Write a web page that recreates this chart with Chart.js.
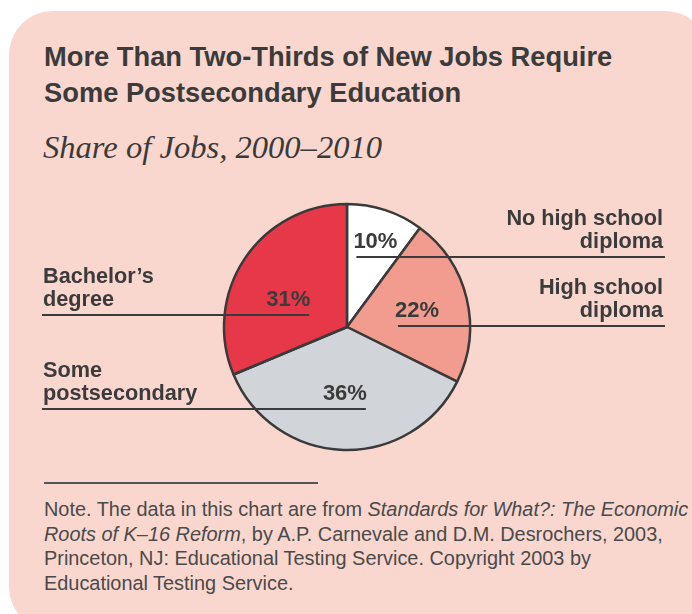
<!DOCTYPE html>
<html>
<head>
<meta charset="utf-8">
<script src="https://cdn.jsdelivr.net/npm/chart.js@4/dist/chart.umd.min.js"></script>
<style>
  html, body { margin:0; padding:0; background:#ffffff; width:692px; height:614px; overflow:hidden; }
  #panel { position:absolute; left:9px; top:11px; width:700px; height:620px; border-radius:44px; background:#F9D7CE; }
  #c { position:absolute; left:0; top:0; }
  .t { position:absolute; white-space:nowrap; color:#3b3b3b; }
  #title { left:44px; top:39px; font:bold 27.3px "Liberation Sans", Arial, sans-serif; line-height:36px; }
  #sub { left:43px; top:128.5px; font:italic 32.6px "Liberation Serif", "Times New Roman", serif; line-height:36px; color:#3a3a3a; }
  #rule { position:absolute; left:44px; top:482px; width:274px; height:2px; background:#555; }
  #note { left:44px; top:497px; font:19.9px "Liberation Sans", Arial, sans-serif; line-height:24.7px; color:#4a4a4a; }
</style>
</head>
<body>
<div id="panel"></div>
<div class="t" id="title">More Than Two-Thirds of New Jobs Require<br>Some Postsecondary Education</div>
<div class="t" id="sub">Share of Jobs, 2000–2010</div>
<div id="rule"></div>
<div class="t" id="note">Note. The data in this chart are from <i>Standards for What?: The Economic</i><br><i>Roots of K–16 Reform</i>, by A.P. Carnevale and D.M. Desrochers, 2003,<br>Princeton, NJ: Educational Testing Service. Copyright 2003 by<br>Educational Testing Service.</div>
<canvas id="c" width="692" height="614"></canvas>
<script>
// ---- data ----
const categories = ["No high school diploma", "High school diploma", "Some postsecondary", "Bachelor’s degree"];
const categoryLines = [["No high school", "diploma"], ["High school", "diploma"], ["Some", "postsecondary"], ["Bachelor’s", "degree"]];
const shares = [10, 22, 36, 31];
const shareLabels = ["10%", "22%", "36%", "31%"];
const sliceColors = ["#FFFFFF", "#F29C8F", "#D1D4D8", "#E63848"];

const INK = "#3b3b3b";

const labelPlugin = {
  id: "sliceLabels",
  afterDatasetsDraw(chart, args, opts) {
    const ctx = chart.ctx;
    const meta = chart.getDatasetMeta(0);
    ctx.save();
    meta.data.forEach((arc, i) => {
      const p = arc.getProps(["x", "y", "startAngle", "endAngle", "outerRadius"], true);
      const mid = (p.startAngle + p.endAngle) / 2 + opts.angleShift[i] * Math.PI / 180;
      const r = p.outerRadius * opts.radial[i];
      const cx = p.x + Math.cos(mid) * r;
      const cy = p.y + Math.sin(mid) * r;
      ctx.font = "bold 22px 'Liberation Sans', Arial, sans-serif";
      ctx.fillStyle = INK;
      ctx.textAlign = "center";
      ctx.textBaseline = "middle";
      const txt = shareLabels[i];
      const w = ctx.measureText(txt).width;
      ctx.fillText(txt, cx, cy + 1);
      const ly = Math.round(cy + 16);
      const right = Math.cos(mid) > 0;
      ctx.strokeStyle = INK;
      ctx.lineWidth = 2;
      ctx.beginPath();
      if (right) { ctx.moveTo(cx - w / 2 + 3, ly); ctx.lineTo(opts.rightEdge, ly); }
      else { ctx.moveTo(opts.leftEdge, ly); ctx.lineTo(cx + w / 2 - 1, ly); }
      ctx.stroke();
      ctx.font = "bold 21.7px 'Liberation Sans', Arial, sans-serif";
      ctx.textBaseline = "alphabetic";
      ctx.textAlign = right ? "right" : "left";
      const tx = right ? opts.rightEdge - 2 : opts.leftEdge + 1;
      const lines = categoryLines[i];
      ctx.fillText(lines[1], tx, ly - 9);
      ctx.fillText(lines[0], tx, ly - 32);
    });
    ctx.restore();
  }
};

new Chart(document.getElementById("c"), {
  type: "pie",
  data: {
    labels: categories,
    datasets: [{
      data: shares,
      backgroundColor: sliceColors,
      borderColor: "#3a3a3a",
      borderWidth: 2.5
    }]
  },
  options: {
    responsive: false,
    animation: false,
    events: [],
    radius: 123,
    layout: { padding: { left: 217, right: 215, top: 197, bottom: 157 } },
    plugins: {
      legend: { display: false },
      tooltip: { enabled: false },
      sliceLabels: { radial: [0.74, 0.585, 0.537, 0.53], angleShift: [0, 0, 0, -8], leftEdge: 42, rightEdge: 665 }
    }
  },
  plugins: [labelPlugin]
});
</script>
</body>
</html>
